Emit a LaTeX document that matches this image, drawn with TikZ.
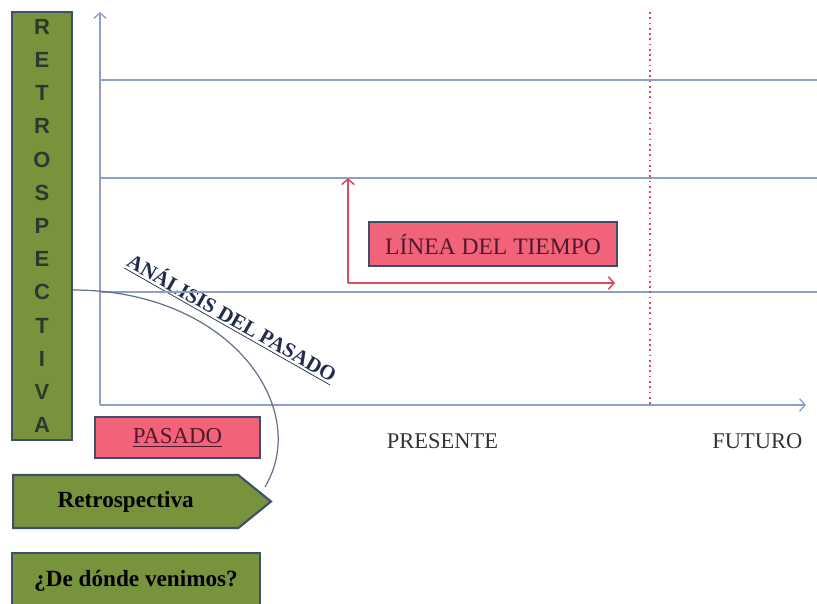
\documentclass[tikz,border=0pt]{standalone}
\usepackage{fontspec}
\setmainfont{Liberation Serif}
\setsansfont{Liberation Sans}
\usepackage{xcolor}
\usepackage{tikz}
\usetikzlibrary{shapes,arrows,arrows.meta,positioning}
\definecolor{oliva}{RGB}{119,147,60}
\definecolor{borde}{RGB}{62,78,108}
\definecolor{rosa}{RGB}{242,98,120}
\definecolor{eje}{RGB}{140,160,200}
\definecolor{rojo}{RGB}{222,72,92}
\definecolor{oscuro}{RGB}{40,58,45}
\definecolor{granate}{RGB}{80,25,45}
\definecolor{marino}{RGB}{35,45,75}
\tikzstyle{greenbox} = [rectangle, draw=borde, fill=oliva, line width=1.2pt,
    font=\bfseries\fontsize{13.2}{15}\selectfont]
\tikzstyle{pinkbox} = [rectangle, draw=borde, fill=rosa, line width=1.2pt,
    text=granate, font=\fontsize{13}{15}\selectfont]
\tikzstyle{axisline} = [draw=eje, line width=0.8pt]
\tikzstyle{axislabel} = [font=\fontsize{12.8}{15}\selectfont, text=black!80]
\tikzstyle{redline} = [draw=rojo, line width=0.9pt]

\begin{document}
\begin{tikzpicture}[x=0.02cm, y=-0.02cm, >={Straight Barb[length=1.1mm,width=2.5mm]}]
			\useasboundingbox (0,0) rectangle (817,603);
			% Place nodes
			\node [greenbox, minimum width=1.2cm, minimum height=8.56cm, align=center, text=oscuro,
			  inner sep=1pt, font=\sffamily\bfseries\fontsize{12.5}{18.9}\selectfont] (retroV) at (42,226)
			  {R\\E\\T\\R\\O\\S\\P\\E\\C\\T\\I\\V\\A};
			\node [pinkbox, minimum width=3.3cm, minimum height=0.82cm] (pasado) at (177.5,437.5) {\underline{PASADO}};
			\node [axislabel, right of=pasado, node distance=5.3cm, yshift=-0.07cm] (presente) {PRESENTE};
			\node [axislabel, right of=presente, node distance=6.3cm] (futuro) {FUTURO};
			\node [pinkbox, minimum width=4.96cm, minimum height=0.88cm,
			  font=\fontsize{13.4}{15}\selectfont] (linea) at (493,244) {LÍNEA DEL TIEMPO};
			\node [greenbox, signal, signal to=east, signal pointer angle=78, anchor=west,
			  minimum width=5.16cm, minimum height=1.06cm] (retro) at (12,501.5) {Retrospectiva};
			\node [greenbox, minimum width=4.96cm, minimum height=1.1cm] (venimos) at (136,580.5) {¿De dónde venimos?};
			\node [text=marino, rotate=-29.6, font=\bfseries\fontsize{11.9}{13}\selectfont] (analisis) at (232,318)
			  {\underline{ANÁLISIS DEL PASADO}};
			% axes and lines
			\coordinate (origen) at (100,405);
			\coordinate (ytop) at (100,12);
			\coordinate (xend) at (806,405);
			\path [axisline, ->] (origen) -- (ytop);
			\path [axisline, ->] (origen) -- (xend);
			\foreach \y in {80,178,292}
			  \path [axisline] (100,\y) -- (817,\y);
			\path [draw=rojo, line width=1pt, dotted] (650,12) -- (650,405);
			% time line arrows
			\coordinate (esquina) at (348,283);
			\path [redline, ->] (esquina) -- (348,178);
			\path [redline, ->] (esquina) -- (615,283);
			% arc from the past
			\coordinate (arcoA) at (retroV.east |- 0,290);
			\coordinate (arcoB) at (265,487);
			\draw [borde!80, line width=0.7pt] (arcoA) .. controls (230,290) and (312,408) .. (arcoB);
	\end{tikzpicture}
\end{document}
